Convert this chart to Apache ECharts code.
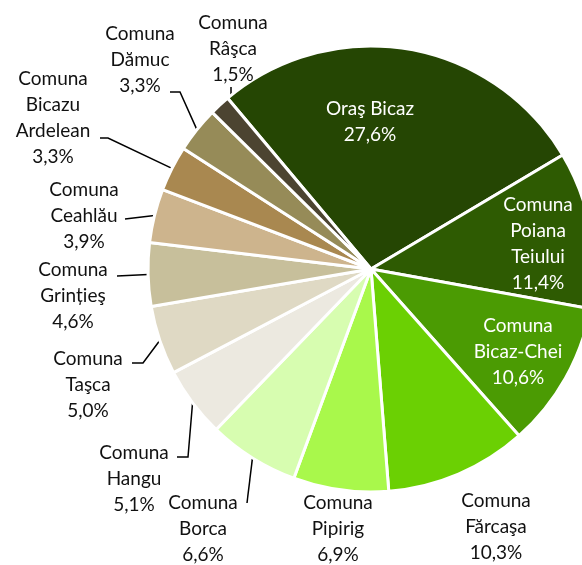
<!DOCTYPE html>
<html>
<head>
<meta charset="utf-8">
<script src="https://cdn.jsdelivr.net/npm/echarts@6/dist/echarts.min.js"></script>
<style>
html, body {margin: 0; padding: 0; background: #fff;}
#chart {width: 582px; height: 565px;}
</style>
</head>
<body>
<div id="chart"></div>
<script>
const names = [
    "Oraş Bicaz", "Comuna Poiana Teiului", "Comuna Bicaz-Chei", "Comuna Fărcaşa",
    "Comuna Pipirig", "Comuna Borca", "Comuna Hangu", "Comuna Taşca",
    "Comuna Grințieş", "Comuna Ceahlău", "Comuna Bicazu Ardelean", "Comuna Dămuc",
    "Comuna Râşca"
];
const shares = [27.6, 11.4, 10.6, 10.3, 6.9, 6.6, 5.1, 5.0, 4.6, 3.9, 3.3, 3.3, 1.5];
const colors = [
    "#254603", "#2e5b02", "#4b9b03", "#6bd003", "#a9f84b", "#d7fdb0", "#ece9e0",
    "#dfd9c4", "#c7bf9b", "#cdb48d", "#a98850", "#968b58", "#4c4431"
];
const insideLabels = [0, 1, 2];
const noLine = [3, 4];

// label block centres (px) and leader line bends, same order as names
const labelSpots = [
    [370, 122], [538, 244], [518, 352], [496, 527], [338, 529], [203, 529], [134, 479],
    [88, 385], [73, 296], [84, 216], [53, 118], [140, 60], [233, 49]
];
const lineBends = [
    null, null, null, null, null,
    [[247, 503]],
    [[188, 457], [177, 457]],
    [[143, 363], [132, 363]],
    [[117, 276]],
    [[125, 219]],
    [[108, 138], [100, 138]],
    [[180, 92], [170, 92]],
    [[231, 98], [231, 87]]
];

const myChart = echarts.init(document.getElementById("chart"));

const pieData = names.map((name, i) => {
    const item = {
        name: name,
        value: shares[i],
        itemStyle: {color: colors[i]}
    };
    if (insideLabels.includes(i)) {
        item.label = {color: "#fff"};
        item.labelLine = {show: false};
    }
    if (noLine.includes(i)) {
        item.labelLine = {show: false};
    }
    return item;
});

const option = {
    animation: false,
    textStyle: {
        fontFamily: "Lato"
    },
    series: [{
        type: "pie",
        center: [371, 269],
        radius: [0, 223],
        startAngle: 130,
        clockwise: true,
        avoidLabelOverlap: false,
        itemStyle: {
            borderColor: "#fff",
            borderWidth: 3
        },
        label: {
            show: true,
            position: "outside",
            color: "#111",
            fontFamily: "Lato",
            fontSize: 19,
            lineHeight: 26,
            formatter: function(p) {
                const name = p.name.startsWith("Comuna") ? p.name.split(" ").join("\n") : p.name;
                return name + "\n" + p.value.toFixed(1).replace(".", ",") + "%";
            }
        },
        labelLine: {
            show: true,
            lineStyle: {
                color: "#000",
                width: 1.5
            }
        },
        labelLayout: function(params) {
            const i = params.dataIndex;
            const out = {
                x: labelSpots[i][0],
                y: labelSpots[i][1],
                align: "center",
                verticalAlign: "middle"
            };
            if (lineBends[i] && params.labelLinePoints) {
                out.labelLinePoints = [params.labelLinePoints[0]].concat(lineBends[i]);
            }
            return out;
        },
        data: pieData
    }]
};

option && myChart.setOption(option);
</script>
</body>
</html>
